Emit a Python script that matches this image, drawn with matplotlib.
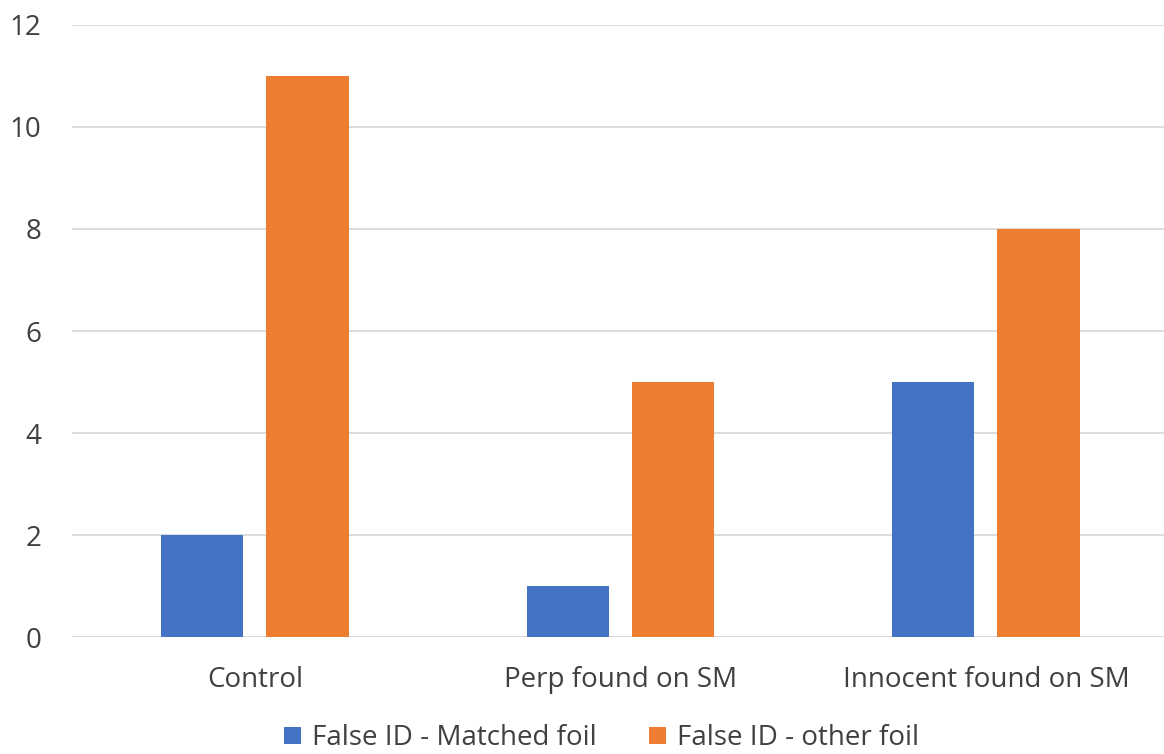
import numpy as np
import matplotlib.pyplot as plt

categories = ["Control", "Perp found on SM", "Innocent found on SM"]
matched_foil = [2, 1, 5]
other_foil = [11, 5, 8]
series_names = ["False ID - Matched foil", "False ID - other foil"]

plt.rcParams['font.family'] = ['Open Sans', 'DejaVu Sans']

fig = plt.figure(figsize=(11.64, 7.54), dpi=100)
ax = fig.add_axes([0.062, 0.155, 0.942, 0.812])

x = np.arange(len(categories))
w = 0.225
off = 0.144
b1 = ax.bar(x - off, matched_foil, w, color="#4472C4", label=series_names[0], zorder=3)
b2 = ax.bar(x + off, other_foil, w, color="#ED7D31", label=series_names[1], zorder=3)

ax.set_xlim(-0.5, 2.5)
ax.set_ylim(0, 12)
ax.set_yticks(range(0, 13, 2))
ax.yaxis.grid(True, color="#D9D9D9", linewidth=1.3, zorder=0)
for s in ax.spines.values():
    s.set_visible(False)
ax.axhline(0, color="#D9D9D9", linewidth=1.3, zorder=1)
ax.set_xticks(x)
ax.set_xticklabels(categories)
ax.tick_params(axis='both', length=0, labelsize=20, labelcolor="#404040")
ax.tick_params(axis='x', pad=21)
ax.tick_params(axis='y', pad=22)

# keep the legend just inside the bottom edge
fig.legend(handles=[b1, b2], loc="center", bbox_to_anchor=(0.517, 0.021),
           ncol=2, frameon=False, fontsize=20, handlelength=0.6, handleheight=0.6,
           columnspacing=1.9, handletextpad=0.4, labelcolor="#404040")

fig.savefig("out.png", dpi=100)
